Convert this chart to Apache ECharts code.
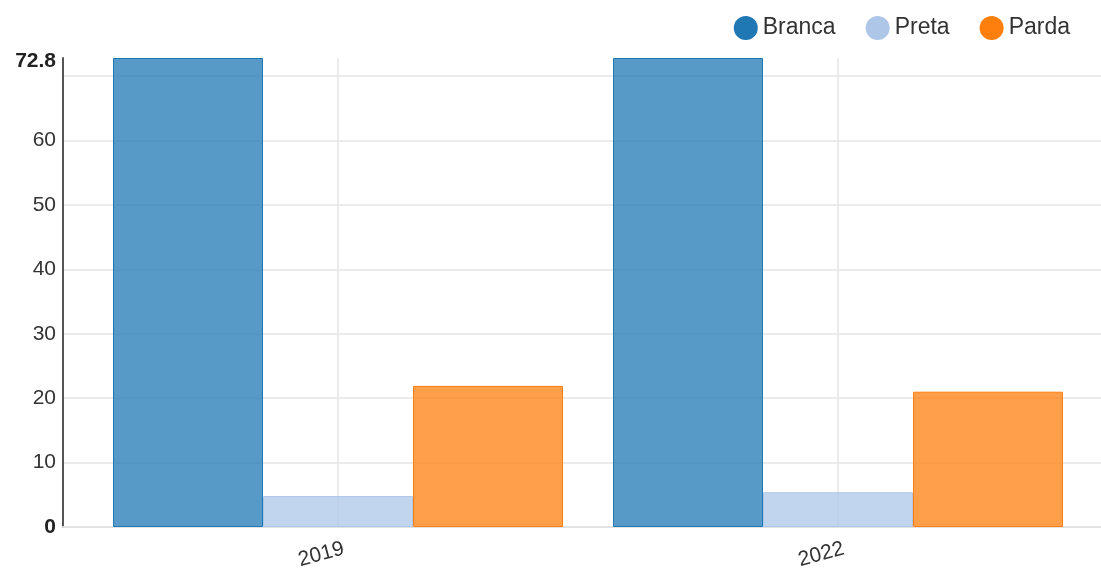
<!DOCTYPE html>
<html>
<head>
<meta charset="utf-8">
<script src="https://cdn.jsdelivr.net/npm/echarts@6/dist/echarts.min.js"></script>
<style>
  html, body { margin: 0; padding: 0; background: #fff; }
  #chart { width: 1101px; height: 572px; }
</style>
</head>
<body>
<div id="chart"></div>
<script>
// Share of population by colour/race, per year
const years = ['2019', '2022'];
const seriesNames = ['Branca', 'Preta', 'Parda'];
const branca = [72.8, 72.8];
const preta = [4.8, 5.4];
const parda = [21.9, 21.0];
const yMax = 72.8;

const FONT = '"Liberation Sans", Arial, sans-serif';
const SOLID = ['#1f77b4', '#aec7e8', '#ff7f0e'];
const FILL = ['rgba(31,119,180,0.75)', 'rgba(174,199,232,0.75)', 'rgba(255,127,14,0.75)'];

function bar(i, data) {
  return {
    name: seriesNames[i],
    type: 'bar',
    xAxisIndex: 1,
    yAxisIndex: 1,
    data: data,
    barGap: '0%',
    barCategoryGap: '10%',
    itemStyle: { color: FILL[i], borderColor: SOLID[i], borderWidth: 1 }
  };
}

const chart = echarts.init(document.getElementById('chart'), null, { renderer: 'canvas' });
chart.setOption({
  animation: false,
  textStyle: { fontFamily: FONT },
  color: SOLID,
  legend: {
    top: 11,
    right: 26,
    icon: 'circle',
    itemWidth: 24,
    itemHeight: 24,
    itemGap: 30,
    textStyle: { fontSize: 23, color: '#333', fontFamily: FONT },
    data: seriesNames.map(function (n, i) {
      return { name: n, itemStyle: { color: SOLID[i], borderWidth: 0, opacity: 1 } };
    })
  },
  grid: [
    { left: 63, right: 0, top: 58, bottom: 45 },
    { left: 88, right: 13, top: 58, bottom: 45 }
  ],
  xAxis: [
    {
      gridIndex: 0, type: 'value', min: 0, max: 1,
      axisLine: { show: true, lineStyle: { color: '#e2e2e2', width: 2 } },
      axisTick: { show: false }, axisLabel: { show: false }, splitLine: { show: false }
    },
    {
      gridIndex: 1, type: 'category', data: years, boundaryGap: true,
      axisLine: { show: false },
      axisTick: { show: true, inside: true, alignWithLabel: true, length: 469,
                  lineStyle: { color: '#e5e5e5', width: 1.5 } },
      axisLabel: { fontSize: 21, color: '#333', rotate: 15, margin: 23,
                   padding: [0, -6, 0, 0], fontFamily: FONT },
      splitLine: { show: false }
    }
  ],
  yAxis: [
    {
      gridIndex: 0, type: 'value', min: 0, max: yMax, interval: 10,
      axisLine: { show: true, lineStyle: { color: '#555', width: 2 } },
      axisTick: { show: false },
      splitLine: { show: true, showMaxLine: false, lineStyle: { color: '#e5e5e5', width: 1.5 } },
      axisLabel: {
        showMaxLabel: true,
        margin: 7,
        fontSize: 21,
        color: '#333',
        fontFamily: FONT,
        formatter: function (v) {
          if (v === yMax) return '{t|' + v + '}';
          if (v === 0) return '{b|' + v + '}';
          if (v > 65) return '';
          return String(v);
        },
        rich: {
          b: { fontSize: 21, fontWeight: 'bold', color: '#222', fontFamily: FONT },
          t: { fontSize: 21, fontWeight: 'bold', color: '#222', fontFamily: FONT, padding: [6, 0, 0, 0] }
        }
      }
    },
    { gridIndex: 1, type: 'value', min: 0, max: yMax, show: false }
  ],
  series: [
    bar(0, branca),
    bar(1, preta),
    bar(2, parda)
  ]
});
</script>
</body>
</html>
